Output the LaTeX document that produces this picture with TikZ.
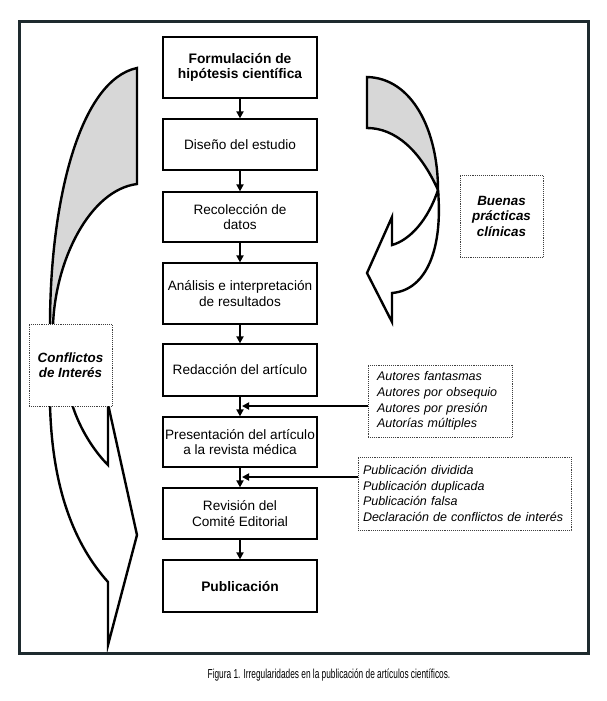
\documentclass[tikz,border=0pt]{standalone}
\usepackage{fontspec}
\usepackage{graphicx}
\setmainfont{Liberation Sans}
\usetikzlibrary{arrows.meta}
\definecolor{framec}{RGB}{30,42,46}
\definecolor{bandgray}{RGB}{215,215,215}
\begin{document}
\begin{tikzpicture}[x=1pt,y=-1pt,
  stepbox/.style={draw=black, line width=1.2pt, fill=white, minimum width=154pt, align=center, inner sep=2pt, font=\fontsize{13.6}{15.2}\selectfont},
  boldstep/.style={stepbox, font=\bfseries\fontsize{13.8}{15.4}\selectfont},
  flow/.style={line width=1.8pt, -{Triangle[length=7pt,width=7pt]}},
  dotbox/.style={draw=black!75, densely dotted, line width=0.9pt, fill=white},
  sidelabel/.style={dotbox, minimum width=83pt, minimum height=82pt, align=center, inner sep=2pt, font=\bfseries\itshape\fontsize{13.4}{15.5}\selectfont},
  listbox/.style={dotbox, align=left, font=\itshape\fontsize{12.5}{15.7}\selectfont},
  band/.style={line width=2.4pt, line join=miter, draw=black},
]
\fill[white] (0,0) rectangle (607,701);
\useasboundingbox (0,0) rectangle (607,701);

% left curved arrow (upper grey part)
\filldraw[band, fill=bandgray] (50,326) .. controls (50,200) and (80,80) .. (137,68) -- (137,184) .. controls (90,190) and (55,260) .. (53,326);
% left curved arrow (lower part)
\draw[band] (50,404) .. controls (52,490) and (75,545) .. (108,582) -- (108,645) -- (137,535) -- (108,404);
\draw[band] (72,404) .. controls (80,430) and (95,452) .. (108,465) -- (108,404);

% right curved arrow
\filldraw[band, fill=bandgray] (367,77) .. controls (412,78) and (438,130) .. (438,190) .. controls (420,150) and (395,128) .. (367,128) -- cycle;
\draw[band] (438,190) .. controls (443,248) and (427,290) .. (392,293) -- (392,322) -- (367,273) -- (392,217) -- (392,245) .. controls (410,240) and (428,220) .. (438,190);

% flow boxes
\node[boldstep, minimum height=61pt] (b1) at (240,67.5) {Formulación de\\hipótesis científica};
\node[stepbox, minimum height=51pt] (b2) at (240,144.5) {Diseño del estudio};
\node[stepbox, minimum height=50pt] (b3) at (240,217) {Recolección de\\datos};
\node[stepbox, minimum height=61pt] (b4) at (240,293.5) {Análisis e interpretación\\de resultados};
\node[stepbox, minimum height=52pt] (b5) at (240,370) {Redacción del artículo};
\node[stepbox, minimum height=50pt] (b6) at (240,442) {Presentación del artículo\\a la revista médica};
\node[stepbox, minimum height=51pt] (b7) at (240,513.5) {Revisión del\\Comité Editorial};
\node[boldstep, minimum height=52pt] (b8) at (240,586) {Publicación};

\draw[flow] (b1.south) -- (b2.north);
\draw[flow] (b2.south) -- (b3.north);
\draw[flow] (b3.south) -- (b4.north);
\draw[flow] (b4.south) -- (b5.north);
\draw[flow] (b5.south) -- (b6.north);
\draw[flow] (b6.south) -- (b7.north);
\draw[flow] (b7.south) -- (b8.north);

% side labels
\node[sidelabel] (bp) at (501.5,216) {Buenas\\prácticas\\clínicas};
\node[sidelabel] (ci) at (70.5,365) {Conflictos\\de Interés};

\node[listbox, minimum width=144pt, minimum height=72pt, inner xsep=9pt, text width=126pt] (au) at (440,401) {Autores fantasmas\\Autores por obsequio\\Autores por presión\\Autorías múltiples};
\node[listbox, minimum width=213pt, minimum height=73pt, inner xsep=5pt, text width=203pt] (pu) at (464.5,493.5) {Publicación dividida\\Publicación duplicada\\Publicación falsa\\Declaración de conflictos de interés};

\coordinate (j1) at (242,406);
\coordinate (j2) at (242,477);
\draw[flow] (au.west |- j1) -- (j1);
\draw[flow] (pu.west |- j2) -- (j2);

% frame
\draw[framec, line width=3pt] (19.5,21.5) rectangle (588,653.5);

% caption
\node[font=\fontsize{13}{14}\selectfont] (cap) at (329,675) {\scalebox{0.64}[1]{Figura 1. Irregularidades en la publicación de artículos científicos.}};
\end{tikzpicture}
\end{document}
